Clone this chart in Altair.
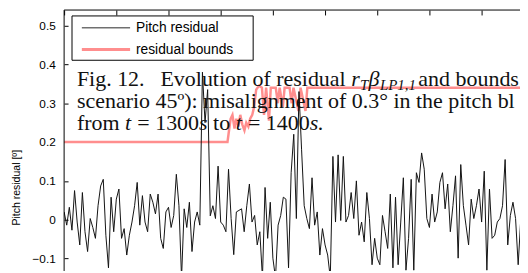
import altair as alt
import pandas as pd

# ---------------- data ----------------
TIME_START = 1200
RESIDUAL = [
    0.02, -0.014, 0.032, -0.027, 0.075, -0.006, -0.065, 0.07, -0.031, -0.082,
    0.003, -0.02, -0.048, 0.036, 0.087, 0.104, -0.04, -0.124, 0.058, -0.031,
    0.053, 0.079, -0.048, -0.023, -0.091, -0.04, -0.006, 0.036, 0.096, -0.014,
    0.062, -0.006, -0.031, 0.066, 0.045, 0.015, 0.066, -0.048, -0.074, 0.02,
    0.032, -0.02, 0.011, 0.117, 0.036, -0.15, 0.028, -0.02, 0.045, -0.082,
    -0.006, 0.02, -0.014, 0.38, 0.25, 0.335, 0.01, 0.036, 0.003, 0.138,
    -0.006, -0.014, -0.031, 0.13, 0.003, -0.09, 0.02, 0.024, 0.028, -0.031,
    0.036, 0.092, -0.006, 0.011, -0.065, -0.031, -0.15, 0.083, -0.048, 0.045,
    -0.099, -0.15, -0.014, 0.011, 0.058, 0.053, -0.124, 0.121, 0.22, 0.003,
    0.33, 0.18, 0.036, 0.003, -0.023, 0.108, -0.014, 0.02, -0.091, -0.023,
    -0.065, -0.091, -0.15, 0.163, -0.006, 0.167, -0.002, 0.163, -0.006, 0.011,
    0.07, 0.003, 0.1, -0.04, -0.006, -0.057, 0.07, 0.003, -0.116, -0.048,
    -0.099, -0.116, 0.011, -0.031, -0.074, 0.066, -0.124, 0.058, -0.116, -0.006,
    0.108, -0.13, -0.048, 0.104, -0.13, 0.121, 0.096, 0.172, 0.13, 0.003,
    -0.02, 0.066, -0.006, 0.02, 0.096, 0.121, 0.028, 0.092, -0.031, 0.036,
    0.113, -0.099, 0.142, 0.036, -0.014, -0.065, 0.053, 0.003, 0.036, 0.079,
    -0.006, 0.125, -0.13, 0.079, -0.048, -0.04, -0.006, 0.003, 0.036, 0.155,
    -0.065, 0.011, 0.045, 0.003, -0.116, 0.003,
]
TIME = list(range(TIME_START, TIME_START + len(RESIDUAL)))

BOUND_T = [1200, 1262.6, 1263.0, 1263.8, 1264.5, 1265.3, 1266.0, 1266.8, 1267.5,
           1268.3, 1269.1, 1269.8, 1270.6, 1271.3, 1272.1, 1272.8, 1273.6, 1274.7,
           1275.8, 1276.6, 1277.4, 1278.5, 1279.2, 1281.1, 1281.9, 1282.6, 1283.8,
           1284.5, 1286.4, 1287.2, 1287.9, 1289.8, 1290.6, 1292.5, 1293.2, 1375]
BOUND_V = [0.2, 0.2, 0.22, 0.26, 0.27, 0.235, 0.26, 0.24, 0.27, 0.245, 0.23, 0.25,
           0.24, 0.26, 0.27, 0.29, 0.335, 0.345, 0.34, 0.27, 0.34, 0.255, 0.34, 0.34,
           0.30, 0.34, 0.29, 0.34, 0.34, 0.30, 0.34, 0.28, 0.34, 0.28, 0.34, 0.34]

X_DOMAIN = [1200, 1374.7]
Y_DOMAIN = [-0.132, 0.54]
X_TICKS = [1200, 1220, 1240, 1260, 1280, 1300, 1320, 1340, 1360]
Y_TICKS = [-0.1, 0, 0.1, 0.2, 0.3, 0.4, 0.5]
Y_TITLE = "Pitch residual [º]"
LEGEND_LABELS = ["Pitch residual", "residual bounds"]

CAP1 = ["Fig. 12.", "Evolution of residual", "r", "T", "β", "LP1,1", "and bounds i"]
CAP2 = "scenario 45º): misalignment of 0.3° in the pitch bl"
CAP3 = ["from", "t", "= 1300", "s", "to", "t", "= 1400", "s."]

res_df = pd.DataFrame({"t": TIME, "v": RESIDUAL})
bnd_df = pd.DataFrame({"t": BOUND_T, "v": BOUND_V})
one = pd.DataFrame({"a": [0]})

xs = alt.Scale(domain=X_DOMAIN, nice=False, zero=False)
ys = alt.Scale(domain=Y_DOMAIN, nice=False, zero=False)

top_axis = alt.Axis(orient="top", values=X_TICKS, labels=False, domain=False,
                    ticks=True, tickSize=5, offset=-5, tickColor="black",
                    grid=False, title=None)
left_axis = alt.Axis(orient="left", values=Y_TICKS, format="~g", domain=False,
                     ticks=True, tickSize=4, offset=-4, tickColor="black",
                     labelPadding=9, labelFont="Liberation Sans", labelFontSize=12,
                     labelColor="black", grid=False,
                     title=Y_TITLE, titleFont="Liberation Sans", titleFontSize=10.7,
                     titleFontWeight="normal", titleColor="black",
                     titleAngle=270, titleX=-52, titleY=180,
                     titleAlign="center", titleBaseline="middle")

red = alt.Chart(bnd_df).mark_line(color="#ff8e8e", strokeWidth=2.5, clip=True).encode(
    x=alt.X("t:Q", scale=xs, axis=top_axis),
    y=alt.Y("v:Q", scale=ys, axis=left_axis),
)
black = alt.Chart(res_df).mark_line(color="#111111", strokeWidth=1, clip=True).encode(
    x=alt.X("t:Q", scale=xs), y=alt.Y("v:Q", scale=ys)
)
frame_left = alt.Chart(pd.DataFrame({"t": [X_DOMAIN[0]]})).mark_rule(
    color="black", strokeWidth=1).encode(x=alt.X("t:Q", scale=xs))
frame_top = alt.Chart(pd.DataFrame({"v": [Y_DOMAIN[1]]})).mark_rule(
    color="black", strokeWidth=1).encode(y=alt.Y("v:Q", scale=ys))

# legend
leg_box = alt.Chart(one).mark_rect(fill="white", stroke="black", strokeWidth=1).encode(
    x=alt.value(8), x2=alt.value(192), y=alt.value(6), y2=alt.value(51))
leg_l1 = alt.Chart(one).mark_rule(color="#707070", strokeWidth=1.5).encode(
    x=alt.value(18), x2=alt.value(67), y=alt.value(18))
leg_l2 = alt.Chart(one).mark_rule(color="#ff8e8e", strokeWidth=3).encode(
    x=alt.value(18), x2=alt.value(67), y=alt.value(40))
leg_t1 = alt.Chart(one).mark_text(align="left", baseline="middle", font="Liberation Sans",
                                  fontSize=14, color="black").encode(
    x=alt.value(73), y=alt.value(18.5), text=alt.value(LEGEND_LABELS[0]))
leg_t2 = alt.Chart(one).mark_text(align="left", baseline="middle", font="Liberation Sans",
                                  fontSize=14, color="black").encode(
    x=alt.value(73), y=alt.value(40.5), text=alt.value(LEGEND_LABELS[1]))

FS = 22.3          # caption font size (px)
SUB = 0.68         # subscript scale
X0 = 13            # caption left edge, relative to plot
B1, B2, B3 = 77, 99.5, 122   # baselines, relative to plot


def cap(txt, em, y, size=FS, italic=False):
    return alt.Chart(one).mark_text(
        align="left", baseline="alphabetic", font="Liberation Serif", fontSize=size,
        fontStyle="italic" if italic else "normal", color="#111111").encode(
        x=alt.value(X0 + em * FS), y=alt.value(y), text=alt.value(txt))


sub_dy = 0.2 * FS
caps = [
    cap(CAP1[0], 0, B1),
    cap(CAP1[1], 3.804, B1),
    cap(CAP1[2], 12.498, B1, italic=True),
    cap(CAP1[3], 12.887, B1 + sub_dy, FS * SUB, True),
    cap(CAP1[4], 13.28, B1, italic=True),
    cap(CAP1[5], 13.80, B1 + sub_dy, FS * SUB, True),
    cap(CAP1[6], 15.55, B1),
    cap(CAP2, 0, B2),
    cap(CAP3[0], 0, B3),
    cap(CAP3[1], 2.194, B3, italic=True),
    cap(CAP3[2], 2.75, B3),
    cap(CAP3[3], 5.564, B3, italic=True),
    cap(CAP3[4], 6.203, B3),
    cap(CAP3[5], 7.231, B3, italic=True),
    cap(CAP3[6], 7.787, B3),
    cap(CAP3[7], 10.601, B3, italic=True),
]

chart = alt.layer(red, black, frame_left, frame_top, leg_box, leg_l1, leg_l2,
                  leg_t1, leg_t2, *caps).properties(
    width=463, height=265,
    autosize=alt.AutoSizeParams(type="none"),
    padding={"left": 57, "top": 0, "right": 0, "bottom": 0},
).configure_view(strokeWidth=0)

chart.save("out.html", embed_options={"renderer": "svg", "actions": False})
